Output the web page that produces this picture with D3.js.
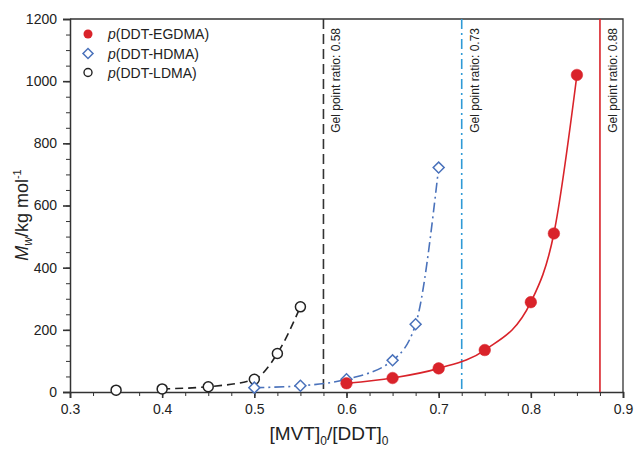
<!DOCTYPE html>
<html><head><meta charset="utf-8">
<script src="https://cdn.jsdelivr.net/npm/d3@7"></script>
<style>body{margin:0;background:#fff}svg{display:block;font-family:"Liberation Sans",Arial,sans-serif}</style>
</head><body><svg id="chart" width="635" height="449"></svg>
<script>
// ---- data ----
const ratioEG = [0.6, 0.65, 0.7, 0.75, 0.8, 0.825, 0.85];
const mwEG    = [28, 45, 76, 135, 289, 510, 1020];
const ratioHD = [0.5, 0.55, 0.6, 0.65, 0.675, 0.7];
const mwHD    = [14, 20, 41, 102, 218, 722];
const ratioLD = [0.35, 0.4, 0.45, 0.5, 0.525, 0.55];
const mwLD    = [6, 10, 17, 41, 124, 274];
const fitStartLD = 0.4;
const gelPoints = [0.575, 0.725, 0.875];
const gelLabels = ["Gel point ratio: 0.58", "Gel point ratio: 0.73", "Gel point ratio: 0.88"];
const seriesNames = ["DDT-EGDMA", "DDT-HDMA", "DDT-LDMA"];
const xTicks = [0.3, 0.4, 0.5, 0.6, 0.7, 0.8, 0.9];
const yTicks = [0, 200, 400, 600, 800, 1000, 1200];

// ---- layout ----
const W = 635, H = 449;
const m = {left: 70, right: 12, top: 19, bottom: 57};
const svg = d3.select("#chart");
const x = d3.scaleLinear().domain([0.3, 0.9]).range([m.left, W - m.right]);
const y = d3.scaleLinear().domain([0, 1200]).range([H - m.bottom, m.top]);

const RED = "#d9232a", BLUE = "#4a72bb", CYAN = "#2f9ad6", DARK = "#222";
const axisCol = "#333";

// frame (top and right)
svg.append("path")
  .attr("d", `M${x(0.3)},${y(1200)}H${x(0.9)}V${y(0)}`)
  .attr("fill", "none").attr("stroke", axisCol).attr("stroke-width", 1.3);

// axes
const minorX = d3.range(0, 25).map(i => 0.3 + i * 0.025);
const minorY = d3.range(0, 25).map(i => i * 50);
const gx = svg.append("g").attr("transform", `translate(0,${y(0)})`);
gx.call(d3.axisBottom(x).tickValues(minorX).tickSize(4).tickFormat(""));
gx.select(".domain").remove();
gx.selectAll(".tick line").attr("stroke", axisCol).attr("stroke-width", 1);
const gx2 = svg.append("g").attr("transform", `translate(0,${y(0)})`);
gx2.call(d3.axisBottom(x).tickValues(xTicks).tickSize(6).tickPadding(6).tickFormat(d3.format(".1f")));
gx2.select(".domain").attr("stroke", axisCol).attr("stroke-width", 1.5);
gx2.selectAll(".tick line").attr("stroke", axisCol).attr("stroke-width", 1.6);
gx2.selectAll(".tick text").attr("font-size", 14).attr("fill", DARK)
   .attr("font-family", '"Liberation Sans",Arial,sans-serif');

const gy = svg.append("g").attr("transform", `translate(${x(0.3)},0)`);
gy.call(d3.axisLeft(y).tickValues(minorY).tickSize(4).tickFormat(""));
gy.select(".domain").remove();
gy.selectAll(".tick line").attr("stroke", axisCol).attr("stroke-width", 1);
const gy2 = svg.append("g").attr("transform", `translate(${x(0.3)},0)`);
gy2.call(d3.axisLeft(y).tickValues(yTicks).tickSize(7).tickPadding(6).tickFormat(d3.format("d")));
gy2.select(".domain").attr("stroke", axisCol).attr("stroke-width", 1.5);
gy2.selectAll(".tick line").attr("stroke", axisCol).attr("stroke-width", 1.6);
gy2.selectAll(".tick text").attr("font-size", 14).attr("fill", DARK)
   .attr("font-family", '"Liberation Sans",Arial,sans-serif');

// axis titles
const xt = svg.append("text").attr("x", 329).attr("y", 440).attr("text-anchor", "middle")
  .attr("font-size", 19).attr("fill", DARK);
xt.append("tspan").text("[MVT]");
xt.append("tspan").attr("font-size", 12).attr("dy", 5).text("0");
xt.append("tspan").attr("dy", -5).text("/[DDT]");
xt.append("tspan").attr("font-size", 12).attr("dy", 5).text("0");

const yt = svg.append("text").attr("transform", "translate(28,215) rotate(-90)")
  .attr("text-anchor", "middle").attr("font-size", 18).attr("fill", DARK);
yt.append("tspan").attr("font-style", "italic").text("M");
yt.append("tspan").attr("font-style", "italic").attr("font-size", 12).attr("dy", 4).text("w");
yt.append("tspan").attr("dy", -4).text("/kg mol");
yt.append("tspan").attr("font-size", 11).attr("dy", -7).text("-1");

// gel point lines
const gelStyles = [
  {color: "#333", dash: "10,5", w: 1.6},
  {color: CYAN, dash: "10,4,2,4", w: 1.6},
  {color: RED, dash: null, w: 1.6}
];
gelPoints.forEach((g, i) => {
  svg.append("line").attr("x1", x(g)).attr("x2", x(g)).attr("y1", y(1200)).attr("y2", y(0))
    .attr("stroke", gelStyles[i].color).attr("stroke-width", gelStyles[i].w)
    .attr("stroke-dasharray", gelStyles[i].dash);
  svg.append("text").attr("transform", `translate(${x(g) + 17},28) rotate(-90)`)
    .attr("text-anchor", "end").attr("font-size", 12).attr("fill", DARK).text(gelLabels[i]);
});

// curves
const line = d3.line().x(d => x(d[0])).y(d => y(d[1])).curve(d3.curveMonotoneX);
const ptsEG = ratioEG.map((r, i) => [r, mwEG[i]]);
const ptsHD = ratioHD.map((r, i) => [r, mwHD[i]]);
const ptsLD = ratioLD.map((r, i) => [r, mwLD[i]]);
svg.append("path").attr("d", line(ptsLD.filter(p => p[0] >= fitStartLD)))
  .attr("fill", "none").attr("stroke", DARK).attr("stroke-width", 1.6).attr("stroke-dasharray", "8,5");
svg.append("path").attr("d", line(ptsHD))
  .attr("fill", "none").attr("stroke", BLUE).attr("stroke-width", 1.6).attr("stroke-dasharray", "10,4,2,4");
svg.append("path").attr("d", line(ptsEG))
  .attr("fill", "none").attr("stroke", RED).attr("stroke-width", 1.6);

// markers
svg.append("g").selectAll("circle").data(ptsLD).join("circle")
  .attr("cx", d => x(d[0])).attr("cy", d => y(d[1])).attr("r", 5)
  .attr("fill", "#fff").attr("stroke", DARK).attr("stroke-width", 1.5);
svg.append("g").selectAll("path").data(ptsHD).join("path")
  .attr("transform", d => `translate(${x(d[0])},${y(d[1])}) rotate(45)`)
  .attr("d", d3.symbol().type(d3.symbolSquare).size(60)())
  .attr("fill", "#fff").attr("stroke", BLUE).attr("stroke-width", 1.5);
svg.append("g").selectAll("circle").data(ptsEG).join("circle")
  .attr("cx", d => x(d[0])).attr("cy", d => y(d[1])).attr("r", 5.8)
  .attr("fill", RED).attr("stroke", RED).attr("stroke-width", 0.5);

// legend
const lg = svg.append("g");
const rows = [34, 53.5, 72.5];
lg.append("circle").attr("cx", 88).attr("cy", rows[0]).attr("r", 4.5).attr("fill", RED);
lg.append("path").attr("transform", `translate(88,${rows[1]}) rotate(45)`)
  .attr("d", d3.symbol().type(d3.symbolSquare).size(50)()).attr("fill", "#fff")
  .attr("stroke", BLUE).attr("stroke-width", 1.5);
lg.append("circle").attr("cx", 88).attr("cy", rows[2]).attr("r", 4).attr("fill", "#fff")
  .attr("stroke", DARK).attr("stroke-width", 1.4);
seriesNames.forEach((n, i) => {
  const t = lg.append("text").attr("x", 108).attr("y", rows[i] + 5).attr("font-size", 14).attr("fill", DARK);
  t.append("tspan").attr("font-style", "italic").text("p");
  t.append("tspan").text("(" + n + ")");
});
</script></body></html>
